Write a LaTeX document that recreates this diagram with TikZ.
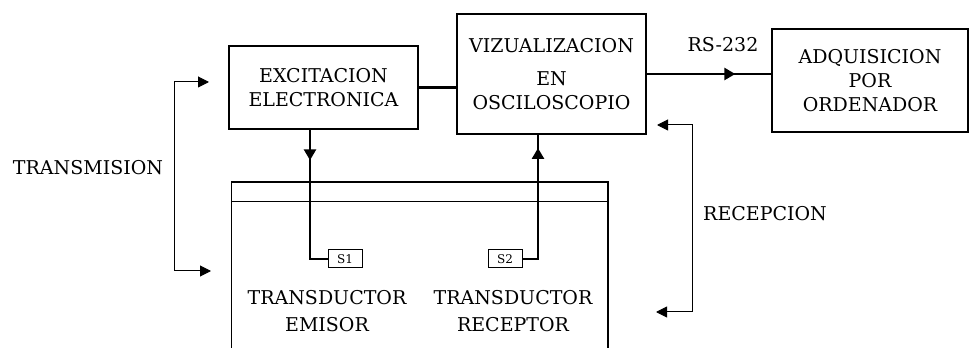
\documentclass[tikz,border=0pt]{standalone}
\usepackage{fontspec}
\setmainfont{DejaVu Serif}
\usetikzlibrary{arrows.meta, positioning}

\begin{document}
\begin{tikzpicture}[
		x=1pt, y=1pt,
		block/.style={rectangle, draw, line width=2.6pt, align=center,
			inner sep=0pt, font=\fontsize{19}{24}\selectfont},
		sbox/.style={rectangle, draw, line width=1pt, minimum width=34pt,
			minimum height=18pt, inner sep=0pt, font=\fontsize{12}{14}\selectfont},
		lbl/.style={align=center, font=\fontsize{19}{27}\selectfont},
		conn/.style={line width=2.6pt},
		arr/.style={line width=2.6pt, -{Triangle[length=11pt,width=12pt]}},
		brk/.style={line width=1pt, {Triangle[length=11pt,width=11pt]}-{Triangle[length=11pt,width=11pt]}}
	]
	\useasboundingbox (0,0) rectangle (969,348);

	% bloques principales
	\node[block, minimum width=189pt, minimum height=83pt] (exc) at (323.5,260.5)
		{EXCITACION\\ELECTRONICA};
	\node[block, minimum width=189pt, minimum height=120pt] (viz) at (551.5,274)
		{VIZUALIZACION\\[9pt]EN\\OSCILOSCOPIO};
	\node[block, minimum width=196pt, minimum height=103pt] (adq) at (870,267.5)
		{ADQUISICION\\POR\\ORDENADOR};

	% recipiente de ensayo
	\coordinate (tnw) at (231,166);
	\coordinate (tne) at (608,166);
	\draw[line width=1pt] (tnw) -- (231,0);
	\draw[conn] (tnw) -- (tne) -- (608,0);
	\draw[line width=1pt] (231,146) -- (608,146);

	% transductores
	\node[sbox] (s1) at (345,89) {S1};
	\node[sbox] (s2) at (505,89) {S2};
	\node[lbl] (emi) at (327,36.5) {TRANSDUCTOR\\EMISOR};
	\node[lbl] (rec) at (513,36.5) {TRANSDUCTOR\\RECEPTOR};

	% conexiones
	\draw[conn] (exc.east) -- (exc.east -| viz.west);
	\draw[conn] (viz.east) -- (viz.east -| adq.west);
	\draw[arr] (viz.east) -- ++(88,0);
	\node[font=\fontsize{19}{24}\selectfont] (rs) at (723,303) {RS-232};

	\draw[conn] ([xshift=-13.5pt]exc.south) |- (s1.west);
	\draw[arr] ([xshift=-13.5pt]exc.south) -- ++(0,-30);
	\draw[conn] (s2.east) -| ([xshift=-13.5pt]viz.south);
	\draw[arr] ([xshift=-13.5pt]viz.south |- s2.east) -- ++(0,111);

	% transmision / recepcion
	\coordinate (txt) at (209,266);
	\coordinate (txb) at (211,77);
	\draw[brk] (txt) -- ++(-35,0) |- (txb);
	\node[font=\fontsize{19}{24}\selectfont] (trans) at (88,180) {TRANSMISION};

	\coordinate (rxt) at (657,223);
	\coordinate (rxb) at (656,36);
	\draw[brk] (rxt) -- ++(35,0) |- (rxb);
	\node[font=\fontsize{19}{24}\selectfont] (recep) at (765,134) {RECEPCION};
\end{tikzpicture}
\end{document}
